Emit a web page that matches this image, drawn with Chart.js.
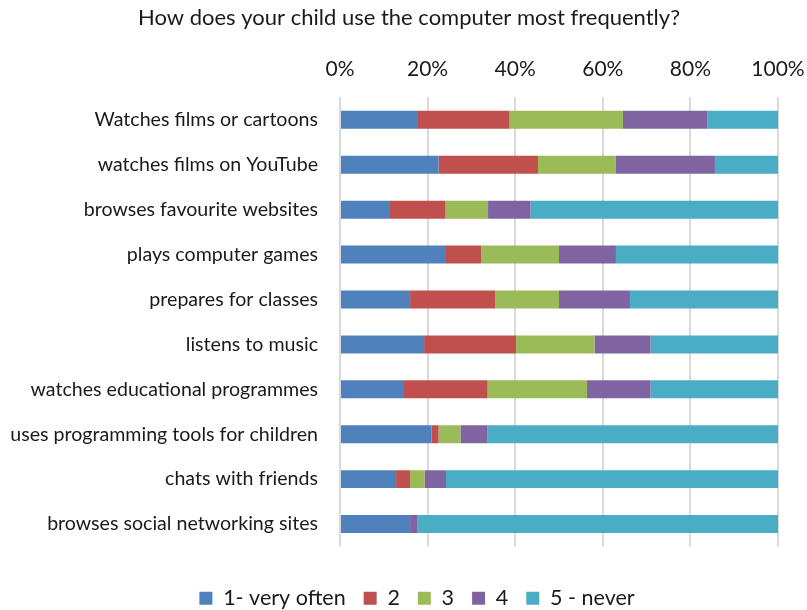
<!DOCTYPE html>
<html>
<head>
<meta charset="utf-8">
<script src="https://cdn.jsdelivr.net/npm/chart.js@4"></script>
<style>
  html, body { margin: 0; padding: 0; background: #fff; }
  #wrap { width: 807px; height: 610px; }
</style>
</head>
<body>
<div id="wrap"><canvas id="usageChart" width="807" height="610"></canvas></div>
<script>
// Categories, top to bottom
const categories = [
    'Watches films or cartoons',
    'watches films on YouTube',
    'browses favourite websites',
    'plays computer games',
    'prepares for classes',
    'listens to music',
    'watches educational programmes',
    'uses programming tools for children',
    'chats with friends',
    'browses social networking sites'
];

// Shares in percent
const veryOften = [17.6, 22.5, 11.2, 24.2, 16.0, 19.2, 14.4, 20.9, 12.8, 16.0];
const level2    = [21.1, 22.7, 12.9,  8.0, 19.4, 21.0, 19.3,  1.6,  3.2,  0.0];
const level3    = [25.9, 17.8,  9.7, 17.8, 14.6, 17.9, 22.7,  5.0,  3.3,  0.0];
const level4    = [19.3, 22.6,  9.7, 13.0, 16.2, 12.8, 14.5,  6.2,  4.9,  1.6];
const never     = [16.1, 14.4, 56.5, 37.0, 33.8, 29.1, 29.1, 66.3, 75.8, 82.4];

const seriesNames = ['1- very often', '2', '3', '4', '5 - never'];
const xTicks = [0, 20, 40, 60, 80, 100];

const FONT = 'Lato, "Open Sans", sans-serif';
const TEXT = '#1a1a1a';

const colors = ['#4F81BD', '#C0504D', '#9BBB59', '#8064A2', '#4BACC6'];
const values = [veryOften, level2, level3, level4, never];

// title and legend are centred a little right of the canvas middle in the reference
const shiftBlocks = {
    id: 'shiftBlocks',
    afterLayout(chart) {
        if (chart.titleBlock) { chart.titleBlock.left += 40; }
        if (chart.legend) { chart.legend.left += 56; }
    }
};

new Chart(document.getElementById('usageChart'), {
    type: 'bar',
    data: {
        labels: categories,
        datasets: values.map((v, i) => ({
            label: seriesNames[i],
            data: v,
            backgroundColor: colors[i],
            borderWidth: 0,
            barPercentage: 0.8,
            categoryPercentage: 0.5
        }))
    },
    plugins: [shiftBlocks],
    options: {
        indexAxis: 'y',
        responsive: false,
        animation: false,
        layout: { padding: { left: 0, right: 29, top: 0, bottom: -9 } },
        scales: {
            x: {
                position: 'top',
                stacked: true,
                min: 0,
                max: 100,
                afterBuildTicks: scale => { scale.ticks = xTicks.map(v => ({ value: v })); },
                ticks: {
                    color: TEXT,
                    font: { family: FONT, size: 21 },
                    padding: 16,
                    callback: v => v + '%'
                },
                grid: { color: '#d9d9d9', lineWidth: 2, drawTicks: false },
                border: { display: false },
                afterFit: scale => {
                    scale.height = 60;
                    // keep the plot edge where the reference has it
                    scale.paddingLeft = 0;
                    scale.paddingRight = 0;
                }
            },
            y: {
                stacked: true,
                ticks: {
                    color: TEXT,
                    font: { family: FONT, size: 19.6 },
                    padding: 14
                },
                grid: { display: false },
                border: { display: false },
                afterFit: scale => { scale.width = 340; }
            }
        },
        plugins: {
            title: {
                display: true,
                text: 'How does your child use the computer most frequently?',
                color: TEXT,
                font: { family: FONT, size: 22, weight: 'normal' },
                padding: { top: 5, bottom: 6 }
            },
            legend: {
                position: 'bottom',
                title: { display: true, text: '', font: { size: 10 }, padding: { top: 11, bottom: 0 } },
                labels: {
                    color: TEXT,
                    font: { family: FONT, size: 21.5 },
                    boxWidth: 13,
                    boxHeight: 13,
                    padding: 18
                }
            },
            tooltip: { enabled: false }
        }
    }
});
</script>
</body>
</html>
